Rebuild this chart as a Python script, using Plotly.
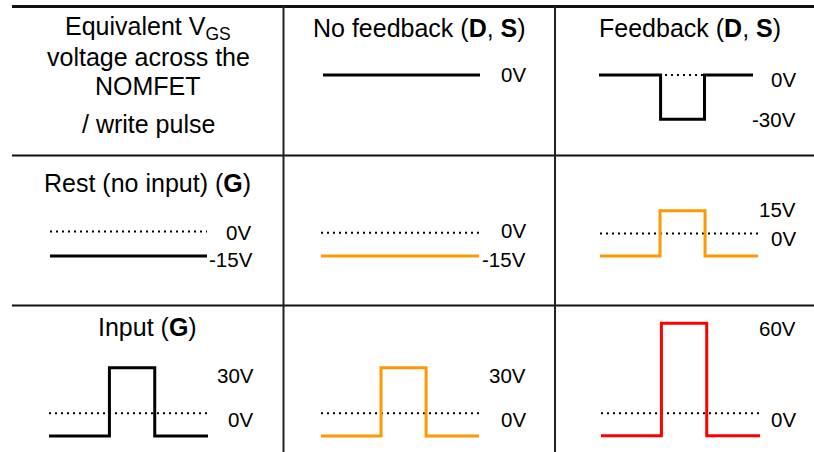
import plotly.graph_objects as go

W, H = 814, 452

# ---------------- data ----------------
t_pulse = [0, 3.8, 3.8, 6.65, 6.65, 10]      # time axis of the write pulses
t_fb = [0, 4.0, 4.0, 6.85, 6.85, 10]         # time axis of the feedback pulse
t_flat = [0, 10]
zero_level = [0, 0]

v_no_feedback = [0, 0]                        # D,S without feedback
v_feedback = [0, 0, -30, -30, 0, 0]           # D,S with feedback
v_rest_g = [-15, -15]                         # gate at rest
v_rest_nofb = [-15, -15]                      # equivalent VGS, rest, no feedback
v_rest_fb = [-15, -15, 15, 15, -15, -15]      # equivalent VGS, rest, feedback
v_input_g = [-15, -15, 30, 30, -15, -15]      # gate input pulse
v_input_nofb = [-15, -15, 30, 30, -15, -15]   # equivalent VGS, input, no feedback
v_input_fb = [-15, -15, 60, 60, -15, -15]     # equivalent VGS, input, feedback

col_titles = ["No feedback (<b>D</b>, <b>S</b>)", "Feedback (<b>D</b>, <b>S</b>)"]
row_titles = ["Rest (no input) (<b>G</b>)", "Input (<b>G</b>)"]
corner_lines = ["Equivalent V<sub>GS</sub>", "voltage across the", "NOMFET", "/ write pulse"]

# ---------------- styles / layout ----------------
BLACK, ORANGE, RED = "#000000", "#FF9900", "#FF0000"
FONT = "Liberation Sans, Arial, sans-serif"

# cell: (x, y, color, dotted, x0px, x1px, zero_px, px_per_volt, top_px, bottom_px)
cells = [
    (t_flat, v_no_feedback, BLACK, False, 323, 480, 75.0, 1.5, 10, 150),
    (t_fb, v_feedback, BLACK, True, 599, 753, 75.0, 1.477, 10, 150),
    (t_flat, v_rest_g, BLACK, True, 50, 207, 231.5, 1.63, 160, 300),
    (t_flat, v_rest_nofb, ORANGE, True, 321, 479, 232.7, 1.55, 160, 300),
    (t_pulse, v_rest_fb, ORANGE, True, 600, 758, 233.4, 1.51, 160, 300),
    (t_pulse, v_input_g, BLACK, True, 49, 208, 413.3, 1.52, 310, 450),
    (t_pulse, v_input_nofb, ORANGE, True, 321, 479, 413.3, 1.52, 310, 450),
    (t_pulse, v_input_fb, RED, True, 601, 760, 413.3, 1.5, 310, 450),
]

fig = go.Figure()
layout_axes = {}
for i, (tx, vy, color, dotted, x0, x1, y0, s, top, bot) in enumerate(cells, start=1):
    xa = "x" if i == 1 else f"x{i}"
    ya = "y" if i == 1 else f"y{i}"
    if dotted:
        fig.add_trace(go.Scatter(x=t_flat, y=zero_level, mode="lines", xaxis=xa, yaxis=ya,
                                 line=dict(color=BLACK, width=2, dash="2px,4px"),
                                 hoverinfo="skip", showlegend=False, cliponaxis=False))
    fig.add_trace(go.Scatter(x=tx, y=vy, mode="lines", xaxis=xa, yaxis=ya,
                             line=dict(color=color, width=3),
                             hoverinfo="skip", showlegend=False, cliponaxis=False))
    key = "" if i == 1 else str(i)
    layout_axes["xaxis" + key] = dict(domain=[x0 / W, x1 / W], range=[0, 10], visible=False,
                                      fixedrange=True, anchor=ya)
    layout_axes["yaxis" + key] = dict(domain=[1 - bot / H, 1 - top / H],
                                      range=[-(bot - y0) / s, (y0 - top) / s], visible=False,
                                      fixedrange=True, anchor=xa)

fig.update_layout(**layout_axes)

# table rules
shapes = []
def hline(y, w):
    shapes.append(dict(type="line", xref="paper", yref="paper", x0=12 / W, x1=1,
                       y0=1 - y / H, y1=1 - y / H, line=dict(color="#111111", width=w)))
def vline(x):
    shapes.append(dict(type="line", xref="paper", yref="paper", x0=x / W, x1=x / W,
                       y0=0, y1=1 - 6 / H, line=dict(color="#222222", width=2)))
hline(6.5, 3)
hline(155.5, 2)
hline(305.5, 2)
vline(283.5)
vline(555)

ann = []
def text(s, x, y, size, anchor="center"):
    ann.append(dict(text=s, x=x / W, y=1 - y / H, xref="paper", yref="paper",
                    xanchor=anchor, yanchor="middle", showarrow=False,
                    font=dict(family=FONT, size=size, color="#000000")))

# corner text
for s_, y_ in zip(corner_lines, [28, 57, 86, 124]):
    text(s_, 148, y_, 25)
# column titles
text(col_titles[0], 419, 28, 25)
text(col_titles[1], 690, 28, 25)
# row titles
text(row_titles[0], 147, 183, 25)
text(row_titles[1], 147, 327, 25)

# level labels (right aligned)
labels = [
    ("0V", 528, 75), ("0V", 798, 79), ("-30V", 798, 119),
    ("0V", 253, 232), ("-15V", 255, 259),
    ("0V", 528, 231), ("-15V", 528, 259),
    ("15V", 798, 209), ("0V", 798, 238),
    ("30V", 256, 375), ("0V", 255, 419),
    ("30V", 528, 375), ("0V", 528, 419),
    ("60V", 798, 328), ("0V", 798, 419),
]
for s_, x_, y_ in labels:
    text(s_, x_, y_, 20.5, anchor="right")

fig.update_layout(width=W, height=H, margin=dict(l=0, r=0, t=0, b=0),
                  paper_bgcolor="white", plot_bgcolor="rgba(0,0,0,0)",
                  shapes=shapes, annotations=ann, showlegend=False)

fig.write_html("out.html", config={"displayModeBar": False, "staticPlot": True},
               post_script="document.body.style.margin='0px';document.body.style.padding='0px';"
                           "document.body.style.overflow='hidden';")
